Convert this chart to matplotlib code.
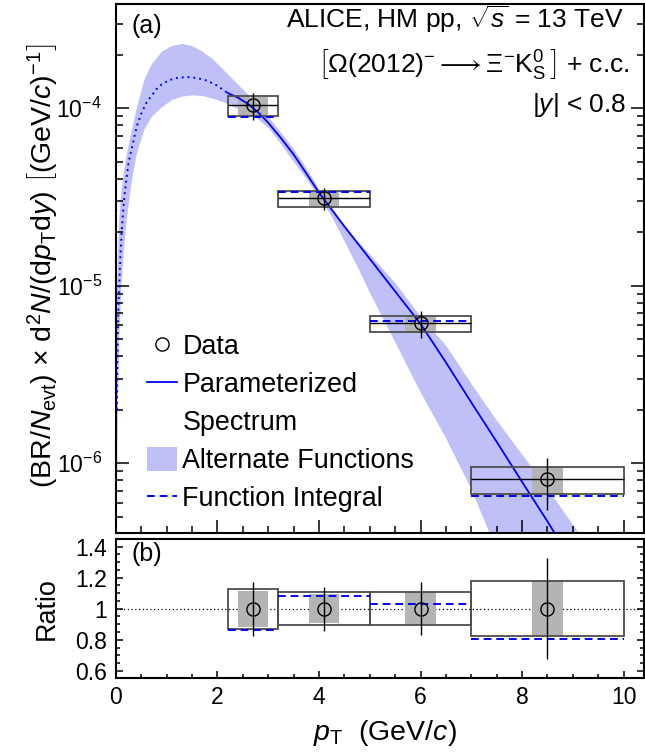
import numpy as np
import matplotlib
matplotlib.use('Agg')
import matplotlib.pyplot as plt
from matplotlib.lines import Line2D
from matplotlib.patches import Patch
from matplotlib.ticker import MultipleLocator, FixedLocator, FixedFormatter, LogLocator, NullFormatter

plt.rcParams['font.family'] = ['Liberation Sans', 'DejaVu Sans']
plt.rcParams['mathtext.fontset'] = 'custom'
plt.rcParams['mathtext.rm'] = 'Liberation Sans'
plt.rcParams['mathtext.it'] = 'Liberation Sans:italic'
plt.rcParams['mathtext.bf'] = 'Liberation Sans:bold'
plt.rcParams['mathtext.sf'] = 'Liberation Sans'

# Measured yields per pT bin
pt = np.array([2.7, 4.1, 6.0, 8.5])
bin_lo = np.array([2.2, 3.2, 5.0, 7.0])
bin_hi = np.array([3.2, 5.0, 7.0, 10.0])
yld = np.array([1.04e-4, 3.11e-5, 6.15e-6, 8.12e-7])
stat_rel = np.array([0.175, 0.143, 0.171, 0.325])
syst_rel = np.array([0.130, 0.105, 0.105, 0.176])
syst_uncorr_rel = np.array([0.115, 0.092, 0.105, 0.176])
integral = np.array([8.97e-5, 3.36e-5, 6.33e-6, 6.53e-7])

# Parameterized spectrum (dotted below the first measured bin)
fit_pt = np.array([0.02, 0.04, 0.06, 0.09, 0.12, 0.16, 0.2, 0.25, 0.3, 0.35, 0.42,
                   0.5, 0.6, 0.7, 0.8, 0.9, 1.05, 1.2, 1.4, 1.6, 1.8, 2.0, 2.2,
                   2.4, 2.6, 2.8, 3.0, 3.25, 3.5, 3.75, 4.0, 4.5, 5.0, 5.5, 6.0,
                   6.5, 7.0, 7.5, 8.0, 8.5, 8.8])
fit_val = np.array([2.0e-6, 5.5e-6, 9.0e-6, 1.45e-5, 2.1e-5, 3.0e-5, 3.8e-5, 4.9e-5,
                    5.7e-5, 6.6e-5, 8.0e-5, 9.3e-5, 1.07e-4, 1.17e-4, 1.28e-4, 1.36e-4,
                    1.44e-4, 1.48e-4, 1.50e-4, 1.48e-4, 1.43e-4, 1.34e-4, 1.22e-4,
                    1.15e-4, 1.06e-4, 9.5e-5, 8.3e-5, 6.8e-5, 5.5e-5, 4.3e-5, 3.35e-5,
                    2.16e-5, 1.42e-5, 9.3e-6, 6.1e-6, 3.7e-6, 2.2e-6, 1.32e-6,
                    7.85e-7, 4.7e-7, 3.4e-7])
fit_switch = 2.2

# Envelope of the alternate functions
band_pt = np.array([0.01, 0.03, 0.06, 0.1, 0.15, 0.2, 0.3, 0.4, 0.55, 0.7, 0.9, 1.1,
                    1.3, 1.5, 1.7, 1.9, 2.1, 2.3, 2.5, 2.75, 3.0, 3.25, 3.5, 3.75,
                    4.0, 4.25, 4.5, 4.75, 5.0, 5.5, 6.0, 6.5, 7.0, 7.5, 8.0, 8.5,
                    9.0, 9.5])
band_hi = np.array([7e-6, 1.5e-5, 2.4e-5, 3.4e-5, 4.4e-5, 5.4e-5, 7.4e-5, 1.0e-4,
                    1.45e-4, 1.78e-4, 2.1e-4, 2.26e-4, 2.32e-4, 2.25e-4, 2.1e-4,
                    1.9e-4, 1.67e-4, 1.46e-4, 1.28e-4, 1.08e-4, 9.0e-5, 7.3e-5,
                    5.9e-5, 4.6e-5, 3.5e-5, 2.75e-5, 2.2e-5, 1.8e-5, 1.5e-5,
                    1.04e-5, 6.7e-6, 4.6e-6, 2.8e-6, 1.74e-6, 1.12e-6, 7.2e-7,
                    4.5e-7, 2.8e-7])
band_lo = np.array([6e-7, 2e-6, 5e-6, 1.0e-5, 1.6e-5, 2.3e-5, 3.8e-5, 5.5e-5,
                    7.6e-5, 9.0e-5, 1.02e-4, 1.12e-4, 1.17e-4, 1.19e-4, 1.18e-4,
                    1.14e-4, 1.09e-4, 1.03e-4, 9.6e-5, 8.9e-5, 7.8e-5, 6.3e-5,
                    5.0e-5, 4.0e-5, 3.16e-5, 2.45e-5, 1.78e-5, 1.29e-5, 9.1e-6,
                    4.8e-6, 2.5e-6, 1.38e-6, 7.1e-7, 3.2e-7, 1.5e-7, 7e-8,
                    3e-8, 1.5e-8])

band_color = '#c0c0f8'
gray = '#b4b4b4'
box_edge = '#4d4d4d'
fs_lab = 19.4
fs_axis = 20.5
fs_head = 19
fs_tick = 16.5

fig = plt.figure(figsize=(6.45, 7.52), dpi=100)
ax1 = fig.add_axes([0.1795, 0.2916, 0.8189, 0.7037])
ax2 = fig.add_axes([0.1795, 0.0988, 0.8189, 0.1847], sharex=ax1)

# ---- spectrum panel ----
ax1.fill_between(band_pt, band_lo, band_hi, color=band_color, lw=0, zorder=1)
ax1.bar((bin_lo + bin_hi) / 2, 2 * yld * syst_uncorr_rel, bottom=yld * (1 - syst_uncorr_rel),
        width=0.6, color=gray, lw=0, zorder=2)
low = fit_pt <= fit_switch
high = fit_pt >= fit_switch
ax1.plot(fit_pt[low], fit_val[low], color='blue', lw=1.4, ls=(0, (1, 2)), zorder=3)
ax1.plot(fit_pt[high], fit_val[high], color='blue', lw=1.3, zorder=3)
ax1.bar((bin_lo + bin_hi) / 2, 2 * yld * syst_rel, bottom=yld * (1 - syst_rel),
        width=bin_hi - bin_lo, fill=False, edgecolor=box_edge, lw=1.3, zorder=4)
ax1.hlines(integral, bin_lo, bin_hi, colors='blue', lw=1.4, linestyles=(0, (4, 2.5)), zorder=5)
ax1.errorbar(pt, yld, xerr=[pt - bin_lo, bin_hi - pt], yerr=yld * stat_rel,
             fmt='none', ecolor='k', elinewidth=1.0, capsize=0, zorder=6)
ax1.plot(pt, yld, 'o', mfc='none', mec='k', ms=9.5, mew=1.0, zorder=7)

ax1.set_yscale('log')
ax1.set_xlim(0, 10.4)
ax1.set_ylim(4.06e-7, 3.89e-4)
ax1.yaxis.set_minor_locator(LogLocator(base=10, subs=np.arange(2, 10)))
ax1.yaxis.set_minor_formatter(NullFormatter())
ax1.xaxis.set_major_locator(MultipleLocator(2))
ax1.xaxis.set_minor_locator(MultipleLocator(0.5))
ax1.tick_params(axis='both', which='major', direction='in', length=9.4, width=1.1,
                right=True, labelsize=fs_tick, pad=10)
ax1.tick_params(axis='both', which='minor', direction='in', length=5, width=1.1, right=True)
ax1.tick_params(axis='x', labelbottom=False)
ax1.set_ylabel(r'(BR/$N_{\mathrm{evt}}$) $\times$ d$^{2}N$/(d$p_{\mathrm{T}}$d$y$) '
               r'$\left[(\mathrm{GeV}/c)^{-1}\right]$', fontsize=fs_axis)
ax1.yaxis.set_label_coords(-0.106, 0.505)

ax1.text(0.030, 0.957, '(a)', transform=ax1.transAxes, fontsize=18, va='center', ha='left')
ax1.text(0.961, 0.953, r'ALICE, HM pp, $\sqrt{s}$ = 13 TeV', transform=ax1.transAxes,
         fontsize=fs_head, ha='right', va='baseline')
ax1.text(0.9735, 0.871,
         r'$\left[\mathrm{\Omega(2012)^{-}}\longrightarrow\mathrm{\Xi^{-}K^{0}_{S}}\,\right]$ + c.c.',
         transform=ax1.transAxes, fontsize=fs_head, ha='right', va='baseline')
ax1.text(0.967, 0.7955, r'$|y|$ < 0.8', transform=ax1.transAxes, fontsize=fs_head,
         ha='right', va='baseline')

handles = [Line2D([], [], ls='none', marker='o', mfc='none', mec='k', ms=9.5, mew=1.0),
           Line2D([], [], color='blue', lw=1.3),
           Line2D([], [], alpha=0),
           Patch(facecolor=band_color, edgecolor='none'),
           Line2D([], [], color='blue', lw=1.4, ls=(0, (4, 2.5)))]
labels = ['Data', 'Parameterized', 'Spectrum', 'Alternate Functions', 'Function Integral']
ax1.legend(handles, labels, loc='upper left', bbox_to_anchor=(0.0596, 0.3775),
           frameon=False, fontsize=fs_lab, handlelength=1.1, handletextpad=0.2,
           labelspacing=0.40, borderpad=0, borderaxespad=0, handleheight=1.0)

# ---- ratio panel ----
ratio = integral / yld
ax2.axhline(1, color='k', lw=0.9, ls=(0, (1, 2)), zorder=1)
ax2.bar((bin_lo + bin_hi) / 2, 2 * syst_uncorr_rel, bottom=1 - syst_uncorr_rel,
        width=0.6, color=gray, lw=0, zorder=2)
ax2.bar((bin_lo + bin_hi) / 2, 2 * syst_rel, bottom=1 - syst_rel,
        width=bin_hi - bin_lo, fill=False, edgecolor=box_edge, lw=1.3, zorder=4)
ax2.hlines(ratio, bin_lo, bin_hi, colors='blue', lw=1.4, linestyles=(0, (4, 2.5)), zorder=5)
ax2.errorbar(pt, np.ones_like(pt), yerr=stat_rel, fmt='none', ecolor='k',
             elinewidth=1.0, capsize=0, zorder=6)
ax2.plot(pt, np.ones_like(pt), 'o', mfc='none', mec='k', ms=9.5, mew=1.0, zorder=7)

ax2.set_ylim(0.556, 1.45)
ax2.yaxis.set_major_locator(FixedLocator([0.6, 0.8, 1.0, 1.2, 1.4]))
ax2.yaxis.set_major_formatter(FixedFormatter(['0.6', '0.8', '1', '1.2', '1.4']))
ax2.yaxis.set_minor_locator(MultipleLocator(0.05))
ax2.tick_params(axis='both', which='major', direction='in', length=5, width=1.1,
                right=True, labelsize=fs_tick, pad=6)
ax2.tick_params(axis='both', which='minor', direction='in', length=2.8, width=1.1, right=True)
ax2.set_ylabel('Ratio', fontsize=fs_lab)
ax2.yaxis.set_label_coords(-0.106, 0.5)
ax2.set_xlabel(r'$p_{\mathrm{T}}$  (GeV/$c$)', fontsize=fs_axis)
ax2.xaxis.set_label_coords(0.51, -0.29)
ax2.text(0.030, 0.89, '(b)', transform=ax2.transAxes, fontsize=18, va='center', ha='left')

for ax in (ax1, ax2):
    for sp in ax.spines.values():
        sp.set_linewidth(1.5)

fig.savefig('out.png', dpi=100)
